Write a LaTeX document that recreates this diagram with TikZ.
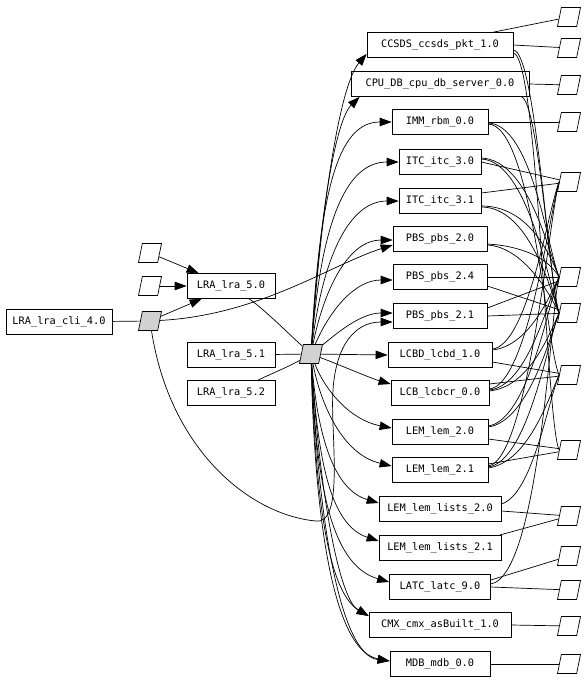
\documentclass[tikz,border=0pt]{standalone}
\usepackage{fontspec}
\setmonofont{DejaVu Sans Mono}
\usetikzlibrary{shapes.geometric,arrows.meta,calc}
\begin{document}
\begin{tikzpicture}[x=1pt,y=-1pt,line width=0.7pt,
 box/.style={draw,rectangle,minimum width=#1,minimum height=25pt,inner sep=0pt,font=\ttfamily\fontsize{10.3}{12}\selectfont},
 iface/.style={draw,trapezium,trapezium left angle=76,trapezium right angle=104,trapezium stretches=true,minimum width=23pt,minimum height=19pt,inner sep=2pt,fill=white},
 ifg/.style={iface,fill=black!18},
 arr/.style={-{Triangle[length=12pt,width=8.5pt]}}
]
\useasboundingbox (0,0) rectangle (586,681);
% left part
\node[box=106pt] (cli) at (59,322) {LRA\_lra\_cli\_4.0};
\node[ifg] (p1) at (150,321) {};
\node[iface] (w1) at (150,253) {};
\node[iface] (w2) at (150,286) {};
\node[box=88pt] (l50) at (231,286) {LRA\_lra\_5.0};
\node[box=88pt] (l51) at (231,355) {LRA\_lra\_5.1};
\node[box=88pt] (l52) at (231,393) {LRA\_lra\_5.2};
\node[ifg] (p2) at (311,354) {};
% right boxes
\node[box=146pt] (ccsds) at (440,45) {CCSDS\_ccsds\_pkt\_1.0};
\node[box=178pt] (cpu) at (440,84) {CPU\_DB\_cpu\_db\_server\_0.0};
\node[box=96pt] (imm) at (440,122) {IMM\_rbm\_0.0};
\node[box=82pt] (itc30) at (440,162) {ITC\_itc\_3.0};
\node[box=82pt] (itc31) at (440,201) {ITC\_itc\_3.1};
\node[box=94pt] (pbs20) at (440,239) {PBS\_pbs\_2.0};
\node[box=94pt] (pbs24) at (440,277) {PBS\_pbs\_2.4};
\node[box=94pt] (pbs21) at (440,316) {PBS\_pbs\_2.1};
\node[box=104pt] (lcbd) at (440,355) {LCBD\_lcbd\_1.0};
\node[box=98pt] (lcb) at (440,393) {LCB\_lcbcr\_0.0};
\node[box=96pt] (lem20) at (440,432) {LEM\_lem\_2.0};
\node[box=96pt] (lem21) at (440,470) {LEM\_lem\_2.1};
\node[box=122pt] (lists20) at (440,509) {LEM\_lem\_lists\_2.0};
\node[box=122pt] (lists21) at (440,548) {LEM\_lem\_lists\_2.1};
\node[box=101pt] (latc) at (440,587) {LATC\_latc\_9.0};
\node[box=142pt] (cmx) at (440,625) {CMX\_cmx\_asBuilt\_1.0};
\node[box=100pt] (mdb) at (440,664) {MDB\_mdb\_0.0};
% right interfaces
\foreach \i/\yy in {1/17,2/48,3/85,4/122,5/182,6/277,7/313,8/375,9/450,10/516,11/556,12/590,13/626,14/664}
  \node[iface] (r\i) at (569,\yy) {};

% left edges
\draw (cli) -- (p1);
\draw[arr] (p1) -- ($(l50.south west)+(15,0)$);
\draw[arr] (w1) -- ($(l50.north west)+(12,0)$);
\draw[arr] (w2) -- (l50.west);
\draw[arr] (p1) .. controls (260,315) and (330,265) .. ($(pbs20.west)+(0,6)$);
\draw[arr] (p1) .. controls (170,450) and (250,515) .. (316,521) .. controls (345,525) and (330,430) .. (333,390) .. controls (336,345) and (355,322) .. ($(pbs21.west)+(0,6)$);
\draw (l50) .. controls (265,310) and (290,335) .. (p2);
\draw (l51) -- (p2);
\draw ($(l52.north)+(27,0)$) .. controls (275,372) and (290,366) .. (p2);

% P2 to right boxes
\draw[arr] (p2) .. controls (322,200) and (340,85) .. ($(ccsds.south west)+(0,-4)$);
\draw[arr] (p2) .. controls (320,210) and (336,120) .. ($(cpu.south west)+(9,0)$);
\draw[arr] (p2) .. controls (320,190) and (338,122) .. (imm.west);
\draw[arr] (p2) .. controls (321,225) and (345,162) .. (itc30.west);
\draw[arr] (p2) .. controls (323,255) and (350,201) .. (itc31.west);
\draw[arr] (p2) .. controls (325,285) and (350,240) .. ($(pbs20.west)+(0,1)$);
\draw[arr] (p2) .. controls (330,310) and (355,280) .. ($(pbs24.west)+(0,3)$);
\draw[arr] (p2) .. controls (335,335) and (360,313) .. ($(pbs21.west)+(0,-3)$);
\draw[arr] (p2) -- (lcbd.west);
\draw[arr] (p2) .. controls (340,365) and (370,378) .. ($(lcb.west)+(0,-9)$);
\draw[arr] (p2) .. controls (325,390) and (350,420) .. ($(lem20.west)+(0,-4)$);
\draw[arr] (p2) .. controls (322,410) and (345,455) .. ($(lem21.west)+(0,-4)$);
\draw[arr] (p2) .. controls (318,440) and (335,490) .. ($(lists20.west)+(0,-6)$);
\draw[arr] (p2) .. controls (318,460) and (330,525) .. ($(lists21.west)+(0,-7)$);
\draw[arr] (p2) .. controls (316,480) and (330,565) .. ($(latc.west)+(0,-5)$);
\draw[arr] (p2) .. controls (315,480) and (325,590) .. ($(cmx.west)+(0,-9)$);
\draw[arr] (p2) .. controls (320,500) and (340,600) .. ($(cmx.west)+(0,-9)$);
\draw[arr] (p2) .. controls (314,500) and (330,650) .. ($(mdb.west)+(0,-3)$);
\draw[arr] (p2) .. controls (318,520) and (340,655) .. ($(mdb.west)+(0,-3)$);

% right straight edges
\draw ($(ccsds.north east)+(-20,0)$) -- (r1);
\draw (ccsds.east) -- (r2);
\draw (cpu.east) -- (r3);
\draw (imm.east) -- (r4);
\draw (itc30.east) -- (r5);
\draw ($(itc31.east)+(0,-8)$) -- (r5);
\draw (pbs24.east) -- (r6);
\draw ($(pbs24.east)+(0,9)$) -- (r7);
\draw ($(pbs21.east)+(0,-8)$) -- (r6);
\draw (pbs21.east) -- (r7);
\draw ($(lcbd.east)+(0,7)$) -- (r8);
\draw ($(lcb.east)+(0,-9)$) -- (r8);
\draw ($(lem20.east)+(0,7)$) -- (r9);
\draw ($(lem21.east)+(0,-6)$) -- (r9);
\draw ($(lists20.east)+(0,2)$) -- (r10);
\draw ($(lists21.north east)+(-2,0)$) -- (r10);
\draw ($(latc.east)+(0,-7)$) -- (r11);
\draw (latc.east) -- (r12);
\draw (cmx.east) -- (r13);
\draw (mdb.east) -- (r14);

% right bundled edges (descending)
\draw ($(ccsds.east)+(0,5)$) .. controls (536,52) and (548,280) .. (r7.west);
\draw ($(ccsds.east)+(0,8)$) .. controls (538,56) and (546,420) .. (r9.west);
\draw ($(cpu.south east)+(-8,0)$) .. controls (538,100) and (550,285) .. (r7.west);
\draw ($(imm.east)+(0,1)$) .. controls (532,125) and (548,250) .. (r6.west);
\draw ($(imm.east)+(0,2)$) .. controls (532,126) and (546,345) .. (r8.west);
\draw ($(itc30.east)+(0,-4)$) .. controls (528,160) and (548,250) .. (r6.west);
\draw ($(itc30.east)+(0,-3)$) .. controls (528,161) and (549,285) .. (r7.west);
\draw ($(itc31.east)+(0,5)$) .. controls (528,206) and (549,252) .. (r6.west);
\draw ($(itc31.east)+(0,6)$) .. controls (528,207) and (550,287) .. (r7.west);
\draw ($(pbs20.east)+(0,5)$) .. controls (522,246) and (548,258) .. (r6.west);
\draw ($(pbs20.east)+(0,6)$) .. controls (522,247) and (548,290) .. (r7.west);
% ascending
\draw ($(lcbd.east)+(0,-6)$) .. controls (528,345) and (548,210) .. (r5.west);
\draw ($(lcbd.east)+(0,-5)$) .. controls (528,346) and (548,300) .. (r6.west);
\draw ($(lcb.east)+(0,-4)$) .. controls (528,385) and (550,210) .. (r5.west);
\draw ($(lcb.east)+(0,-3)$) .. controls (528,386) and (548,300) .. (r6.west);
\draw ($(lcb.east)+(0,-2)$) .. controls (528,387) and (548,338) .. (r7.west);
\draw ($(lem20.east)+(0,-6)$) .. controls (528,420) and (548,305) .. (r6.west);
\draw ($(lem20.east)+(0,-5)$) .. controls (528,421) and (549,340) .. (r7.west);
\draw ($(lem21.east)+(0,-4)$) .. controls (528,460) and (550,212) .. (r5.west);
\draw ($(lem21.east)+(0,-3)$) .. controls (528,461) and (548,340) .. (r7.west);
\draw ($(lem21.east)+(0,-2)$) .. controls (528,462) and (548,400) .. (r8.west);
\draw ($(lists20.east)+(0,-5)$) .. controls (532,495) and (547,405) .. (r8.west);
\draw ($(latc.east)+(0,-3)$) .. controls (540,575) and (551,305) .. (r6.west);
\end{tikzpicture}
\end{document}
